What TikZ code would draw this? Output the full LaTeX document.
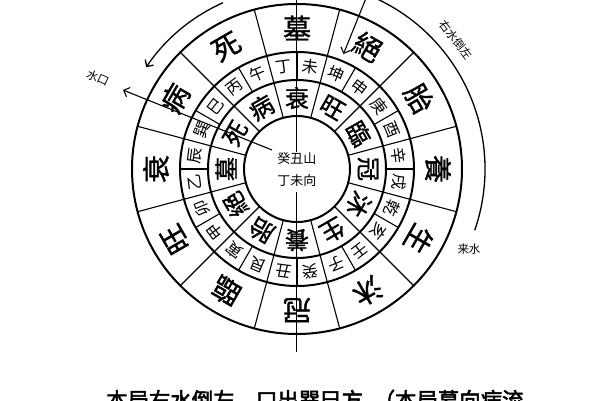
\documentclass[tikz,border=0pt]{standalone}
\usepackage{fontspec}
\newfontfamily\tcfont{Noto Sans CJK TC}
\newfontfamily\tcbold[FakeBold=1.2]{Noto Sans CJK TC}
\newfontfamily\scfont{Noto Sans CJK SC}
\newfontfamily\scbold[FakeBold=2.5]{Noto Sans CJK SC}
\usetikzlibrary{arrows.meta}
\tikzset{
  ringline/.style={line width=2pt},
  spoke/.style={line width=1.1pt},
  bigchar/.style={font=\tcbold\fontsize{28pt}{30pt}\selectfont, inner sep=0pt},
  midchar/.style={font=\tcbold\fontsize{24pt}{26pt}\selectfont, inner sep=0pt},
  smallchar/.style={font=\tcfont\fontsize{16pt}{18pt}\selectfont, inner sep=0pt},
  centre/.style={font=\scfont\fontsize{13pt}{15pt}\selectfont, inner sep=1pt},
  notetext/.style={font=\scfont\fontsize{11.5pt}{13pt}\selectfont, inner sep=0pt},
  arrow/.style={-{Straight Barb[length=5pt,width=10pt]}, line width=1.1pt},
}

\begin{document}
\begin{tikzpicture}[x=1pt,y=1pt]
    \useasboundingbox (-297,-231) rectangle (303,169);
    \clip (-297,-231) rectangle (303,169);
    \foreach \r in {53,89,117,165}
      \draw[ringline] (0,0) circle (\r pt);
    \foreach \a in {15,45,...,345} {
      \draw[spoke] (\a:53) -- (\a:89);
      \draw[spoke] (\a:117) -- (\a:165);
    }
    \foreach \a in {0,15,...,345}
      \draw[spoke] (\a:89) -- (\a:117);
    \foreach \c [count=\i from 0] in {衰,旺,臨,冠,沐,生,養,胎,絕,墓,死,病}
      \node[midchar, rotate={-30*\i}] (in\i) at ({90-30*\i}:71) {\c};
    \foreach \c [count=\i from 0] in {未,坤,申,庚,酉,辛,戌,乾,亥,壬,子,癸,丑,艮,寅,甲,卯,乙,辰,巽,巳,丙,午,丁}
      \node[smallchar, rotate={-7.5-15*\i}] (sh\i) at ({82.5-15*\i}:103) {\c};
    \foreach \c [count=\i from 0] in {墓,絕,胎,養,生,沐,冠,臨,旺,衰,病,死}
      \node[bigchar, rotate={-30*\i}] (out\i) at ({90-30*\i}:141) {\c};
    \node[centre] (shan) at (0,10) {癸丑山};
    \node[centre] (xiang) at (0,-12) {丁未向};
    \coordinate (axtop) at (90:200);
    \coordinate (axbot) at (270:183);
    \draw[line width=1pt] (axtop) -- (shan.north);
    \draw[line width=1pt] ([yshift=-4pt]xiang.south) -- (axbot);
    \coordinate (kouin) at (-25,19);
    \coordinate (kouout) at (-174,79);
    \draw[arrow] (kouin) -- (kouout);
    \node[notetext, rotate=-24] (shuikou) at (-199,91) {水口};
    \coordinate (kunout) at (68:205);
    \coordinate (kunin) at (68:124);
    \draw[arrow] (kunout) -- (kunin);
    \draw[arrow, line width=1.3pt] (114:182) arc[start angle=114, end angle=146, radius=182];
    \draw[line width=1.3pt] (66:188) arc[start angle=66, end angle=-19, radius=188];
    \node[notetext, rotate=-52] (youshui) at (39:205) {右水倒左};
    \node[notetext] (laishui) at (172,-80) {来水};
    \node[anchor=base west, font=\scbold\fontsize{21.4pt}{24pt}\selectfont, inner sep=0pt] (note) at (-191,-239) {本局右水倒左，口出巽巳方，\kern-10.7pt（本局墓向病流};
  \end{tikzpicture}
\end{document}
